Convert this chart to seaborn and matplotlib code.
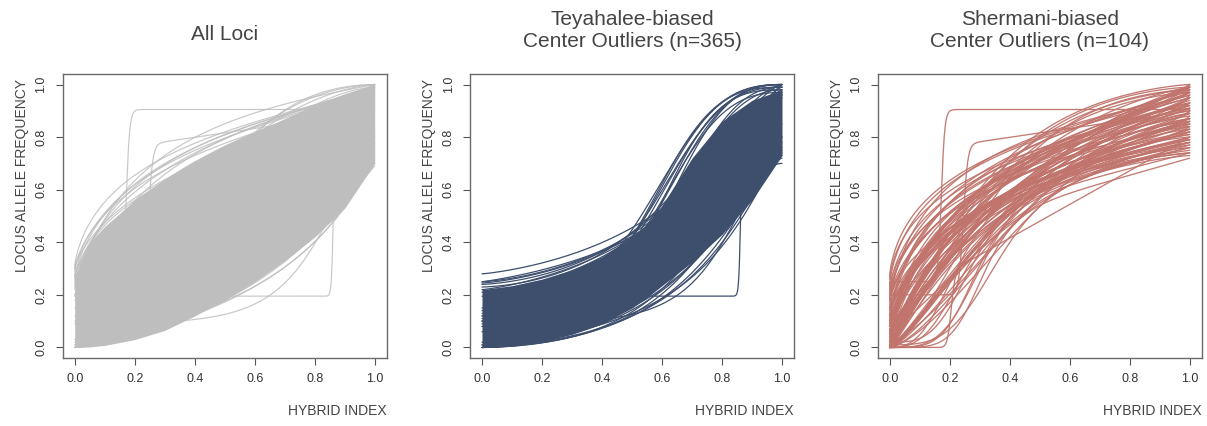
import numpy as np
import pandas as pd
import matplotlib
matplotlib.use("Agg")
import matplotlib.pyplot as plt
import seaborn as sns

# ---------------- data ----------------
# Each cline: start value (h=0), end value (h=1), centre, steepness, logistic share
# Panel 1: All loci
all_y0 = [0.31, 0.29, 0.27, 0.25, 0.30, 0.22, 0.28, 0.20, 0.24, 0.26, 0.30, 0.23, 0.27,
          0.15, 0.10, 0.18, 0.12,
          0.00, 0.00, 0.01, 0.00, 0.02, 0.00, 0.00, 0.03, 0.00, 0.01,
          0.25, 0.20, 0.195, 0.09]
all_y1 = [1.00, 0.98, 1.00, 0.97, 0.95, 1.00, 0.99, 0.96, 1.00, 0.93, 0.97, 0.94, 0.99,
          1.00, 1.00, 0.99, 1.00,
          0.72, 0.69, 0.75, 0.70, 0.78, 0.74, 0.80, 0.73, 0.76, 0.82,
          0.905, 0.90, 0.80, 0.70]
all_mid = [0.20, 0.22, 0.25, 0.20, 0.28, 0.18, 0.30, 0.22, 0.33, 0.25, 0.24, 0.27, 0.21,
           0.40, 0.42, 0.45, 0.38,
           0.76, 0.72, 0.74, 0.70, 0.76, 0.68, 0.72, 0.66, 0.78, 0.70,
           0.172, 0.245, 0.862, 0.80]
all_steep = [0.75, 0.80, 0.85, 0.90, 0.80, 0.95, 0.90, 1.00, 0.85, 0.75, 0.78, 0.88, 0.82,
             1.6, 1.8, 1.5, 1.4,
             1.0, 1.1, 1.0, 1.2, 0.9, 1.3, 1.1, 1.1, 0.95, 1.0,
             25, 25, 40, 2.0]
all_share = [1] * 27 + [1, 0.76, 1, 1]
# dense core of the grey band
all_core_h = [0.0, 0.05, 0.1, 0.2, 0.3, 0.4, 0.5, 0.6, 0.7, 0.8, 0.9, 1.0]
all_core_hi = [0.27, 0.40, 0.46, 0.56, 0.64, 0.71, 0.77, 0.82, 0.87, 0.92, 0.965, 1.0]
all_core_lo = [0.0, 0.002, 0.008, 0.03, 0.065, 0.12, 0.18, 0.25, 0.33, 0.42, 0.53, 0.70]

# Panel 2: Teyahalee-biased centre outliers (n=365)
tey_y0 = [0.28, 0.25, 0.24, 0.22, 0.25, 0.23, 0.21, 0.245,
          0.15, 0.12, 0.10, 0.14, 0.08, 0.10, 0.13, 0.06, 0.11,
          0.10, 0.08, 0.12,
          0.00, 0.00, 0.01, 0.00, 0.00, 0.02, 0.00, 0.01,
          0.195, 0.09]
tey_y1 = [1.00, 0.98, 1.00, 0.96, 0.95, 1.00, 0.99, 0.97,
          1.00, 1.00, 0.99, 1.00, 0.98, 1.00, 0.99, 1.00, 0.97,
          0.98, 0.96, 0.99,
          0.74, 0.72, 0.76, 0.78, 0.73, 0.80, 0.75, 0.85,
          0.80, 0.70]
tey_mid = [0.72, 0.70, 0.68, 0.70, 0.74, 0.66, 0.69, 0.71,
           0.57, 0.575, 0.58, 0.585, 0.59, 0.60, 0.57, 0.61, 0.59,
           0.63, 0.65, 0.64,
           0.78, 0.76, 0.80, 0.75, 0.74, 0.77, 0.72, 0.74,
           0.862, 0.80]
tey_steep = [1.2, 1.3, 1.4, 1.2, 1.1, 1.5, 1.3, 1.25,
             2.2, 2.3, 2.2, 2.1, 2.5, 2.2, 2.4, 2.3, 2.2,
             2.0, 2.0, 2.1,
             1.3, 1.4, 1.2, 1.5, 1.35, 1.3, 1.6, 1.4,
             40, 2.0]
tey_share = [1] * 30
tey_core_h = [0.0, 0.1, 0.2, 0.3, 0.4, 0.5, 0.55, 0.6, 0.65, 0.7, 0.8, 0.9, 1.0]
tey_core_hi = [0.22, 0.235, 0.26, 0.295, 0.345, 0.42, 0.47, 0.54, 0.63, 0.72, 0.86, 0.94, 0.98]
tey_core_lo = [0.0, 0.005, 0.022, 0.05, 0.09, 0.15, 0.19, 0.235, 0.28, 0.325, 0.43, 0.56, 0.73]

# Panel 3: Shermani-biased centre outliers (n=104)
she_y0 = [0.27, 0.24, 0.20, 0.22, 0.18, 0.15, 0.12, 0.10, 0.08, 0.05,
          0.03, 0.00, 0.00, 0.02, 0.00, 0.06, 0.10, 0.14, 0.00, 0.00,
          0.04, 0.00, 0.00, 0.08, 0.16, 0.00, 0.02, 0.00, 0.05, 0.00,
          0.20, 0.00, 0.12, 0.00, 0.07, 0.00,
          0.02, 0.00, 0.06, 0.09, 0.11, 0.13, 0.17, 0.19, 0.21, 0.23,
          0.26, 0.00, 0.01, 0.03, 0.00, 0.04, 0.00, 0.07, 0.00, 0.05,
          0.02, 0.00, 0.08, 0.12, 0.14, 0.00, 0.03, 0.10, 0.00, 0.02,
          0.06, 0.00, 0.00, 0.09, 0.18, 0.00, 0.04, 0.00, 0.15, 0.01,
          0.00, 0.00, 0.02, 0.00, 0.00, 0.00, 0.01,
          0.05, 0.10, 0.00, 0.03, 0.08,
          0.00, 0.25, 0.20]
she_y1 = [1.00, 0.97, 0.99, 0.93, 0.96, 0.91, 0.98, 0.89, 0.95, 0.87,
          0.93, 0.86, 0.91, 0.84, 0.95, 0.80, 0.85, 0.87, 0.82, 0.78,
          0.76, 0.89, 0.97, 1.00, 0.90, 0.74, 0.99, 0.93, 0.83, 0.87,
          0.88, 0.80, 0.95, 0.91, 0.77, 0.84,
          0.81, 0.88, 0.92, 0.79, 0.83, 0.93, 0.95, 0.86, 0.98, 0.90,
          0.96, 0.76, 0.73, 0.79, 0.83, 0.86, 0.90, 0.94, 0.97, 0.99,
          0.75, 0.81, 0.85, 0.78, 0.82, 0.92, 0.96, 0.97, 0.85, 0.89,
          0.78, 0.74, 0.86, 0.91, 0.99, 0.79, 0.93, 0.99, 0.84, 0.87,
          0.72, 0.74, 0.76, 0.78, 0.80, 0.82, 0.77,
          1.00, 0.99, 0.98, 0.97, 0.98,
          0.80, 0.905, 0.90]
she_mid = [0.20, 0.18, 0.22, 0.20, 0.16, 0.18, 0.20, 0.15, 0.22, 0.16,
           0.20, 0.15, 0.18, 0.22, 0.25, 0.18, 0.25, 0.28, 0.20, 0.16,
           0.22, 0.28, 0.30, 0.30, 0.30, 0.20, 0.33, 0.35, 0.30, 0.35,
           0.32, 0.30, 0.35, 0.38, 0.28, 0.40,
           0.24, 0.26, 0.22, 0.20, 0.24, 0.27, 0.25, 0.22, 0.26, 0.24,
           0.22, 0.22, 0.25, 0.28, 0.32, 0.30, 0.33, 0.31, 0.36, 0.34,
           0.18, 0.20, 0.19, 0.21, 0.23, 0.22, 0.26, 0.24, 0.38, 0.40,
           0.35, 0.30, 0.27, 0.29, 0.28, 0.25, 0.20, 0.28, 0.30, 0.34,
           0.30, 0.28, 0.26, 0.25, 0.22, 0.30, 0.34,
           0.25, 0.28, 0.30, 0.27, 0.26,
           0.205, 0.172, 0.245]
she_steep = [0.70, 0.75, 0.80, 0.75, 0.85, 0.90, 0.85, 0.80, 0.95, 0.85,
             0.90, 0.80, 0.85, 0.95, 1.00, 0.85, 0.85, 0.90, 1.00, 0.90,
             0.95, 1.10, 1.00, 0.90, 0.80, 1.10, 1.00, 1.20, 1.00, 1.20,
             0.80, 1.30, 0.90, 1.30, 1.10, 1.40,
             1.05, 1.15, 0.90, 0.90, 0.85, 0.85, 0.80, 0.80, 0.75, 0.75,
             0.70, 1.15, 1.20, 1.10, 1.25, 1.05, 1.20, 1.00, 1.30, 1.10,
             1.00, 1.05, 0.90, 0.85, 0.85, 1.05, 1.00, 0.90, 1.40, 1.35,
             1.20, 1.30, 1.20, 0.95, 0.80, 1.10, 0.95, 1.15, 0.85, 1.25,
             4.0, 3.5, 3.0, 2.5, 2.5, 3.0, 2.8,
             1.3, 1.4, 1.5, 1.35, 1.3,
             25, 25, 25]
she_share = [1] * 76 + [0.55, 0.60, 0.60, 0.65, 0.65, 0.60, 0.60] \
            + [1, 1, 1, 1, 1] + [0.2, 1, 0.76]

titles = ["All Loci", "Teyahalee-biased\nCenter Outliers (n=365)",
          "Shermani-biased\nCenter Outliers (n=104)"]
tick_vals = [0.0, 0.2, 0.4, 0.6, 0.8, 1.0]
tick_labels = ["0.0", "0.2", "0.4", "0.6", "0.8", "1.0"]
colors = ["#BEBEBE", "#3E4F6E", "#C0746C"]

# ---------------- helpers ----------------
H = np.linspace(0.0, 1.0, 601)


def cline(h, y0, y1, m, v, w):
    hc = np.clip(h, 1e-9, 1 - 1e-9)
    with np.errstate(over="ignore"):
        p = 1.0 / (1.0 + ((m / (1 - m)) / (hc / (1 - hc))) ** v)
    p = np.where(h <= 0, 0.0, np.where(h >= 1, 1.0, p))
    return y0 + (y1 - y0) * p * (w + (1 - w) * h)


def long_frame(y0s, y1s, mids, steeps, shares):
    rows = []
    for i, (a, b, m, v, w) in enumerate(zip(y0s, y1s, mids, steeps, shares)):
        rows.append(pd.DataFrame({"locus": i, "h": H, "p": cline(H, a, b, m, v, w)}))
    return pd.concat(rows, ignore_index=True)


sns.set_style("white")
plt.rcParams["font.family"] = ["Liberation Sans", "DejaVu Sans"]

W, Hpx = 1207, 426
fig = plt.figure(figsize=(W / 100, Hpx / 100), dpi=100)

lefts = [62.7, 470.0, 877.7]
box_w = 324.0
box_top, box_bot = 74.0, 358.0

panels = [
    (all_y0, all_y1, all_mid, all_steep, all_share, all_core_h, all_core_hi, all_core_lo),
    (tey_y0, tey_y1, tey_mid, tey_steep, tey_share, tey_core_h, tey_core_hi, tey_core_lo),
    (she_y0, she_y1, she_mid, she_steep, she_share, None, None, None),
]
line_w = [0.85, 0.9, 0.95]
line_a = [0.85, 1.0, 0.95]

for k, (pan, left) in enumerate(zip(panels, lefts)):
    y0s, y1s, mids, steeps, shares, ch, chi, clo = pan
    ax = fig.add_axes([left / W, (Hpx - box_bot) / Hpx, box_w / W, (box_bot - box_top) / Hpx])
    col = colors[k]
    if ch is not None:
        ax.fill_between(ch, clo, chi, color=col, lw=0, zorder=1)
    df = long_frame(y0s, y1s, mids, steeps, shares)
    sns.lineplot(data=df, x="h", y="p", units="locus", estimator=None,
                 color=col, lw=line_w[k], alpha=line_a[k],
                 legend=False, ax=ax, zorder=2, sort=False)
    ax.set_xlim(-0.04, 1.04)
    ax.set_ylim(-0.04, 1.04)
    ax.set_xticks(tick_vals)
    ax.set_xticklabels(tick_labels)
    ax.set_yticks(tick_vals)
    ax.set_yticklabels(tick_labels, rotation=90, va="center")
    ax.tick_params(axis="both", direction="out", length=5, width=0.8,
                   color="#555555", labelsize=9, labelcolor="#333333", pad=6,
                   bottom=True, left=True)
    for s in ax.spines.values():
        s.set_visible(True)
        s.set_color("#6a6a6a")
        s.set_linewidth(1.0)
    ax.set_xlabel("")
    ax.set_ylabel("")
    ax.text(1.0, (box_bot - 411) / (box_bot - box_top), "HYBRID INDEX",
            transform=ax.transAxes, ha="right", va="center",
            fontsize=10, color="#444444")
    ax.text(-41 / box_w, (box_bot - 79) / (box_bot - box_top), "LOCUS ALLELE FREQUENCY",
            transform=ax.transAxes, ha="center", va="top", rotation=90,
            fontsize=10, color="#444444")
    cx = (left + box_w / 2) / W
    if k == 0:
        fig.text(cx, (Hpx - 40) / Hpx, titles[k], ha="center", va="baseline",
                 fontsize=15, color="#444444")
    else:
        l1, l2 = titles[k].split("\n")
        fig.text(cx, (Hpx - 25) / Hpx, l1, ha="center", va="baseline",
                 fontsize=15, color="#444444")
        fig.text(cx, (Hpx - 47) / Hpx, l2, ha="center", va="baseline",
                 fontsize=15, color="#444444")

fig.savefig("out.png", dpi=100, facecolor="white")
